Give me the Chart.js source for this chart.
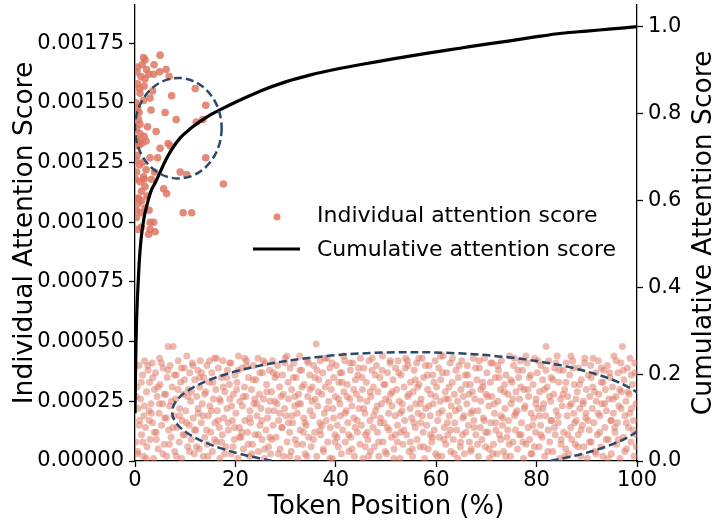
<!DOCTYPE html>
<html>
<head>
<meta charset="utf-8">
<script src="https://cdn.jsdelivr.net/npm/chart.js@4.4.1/dist/chart.umd.min.js"></script>
<style>
  html, body { margin: 0; padding: 0; background: #fff; }
  #chart { display: block; }
</style>
</head>
<body>
<canvas id="chart" width="721" height="520"></canvas>
<script>
// Scores are written in units of 1e-5
const SCORE_UNIT = 1e-5;

// High-attention tokens near the start of the context
const topPoints = [
    [1.7,169],[2.0,168],[5.0,170],[0.5,165],[3.8,166],[2.3,164],[2.7,162],[3.7,162],[4.9,163],[6.2,164],
    [6.8,161],[2.0,160],[0.9,156],[1.8,157],[1.0,154],[3.0,152],[7.3,153],[12.0,156],[14.1,149],[0.5,148],
    [6.0,146],[8.2,143],[0.7,143],[0.3,139],[12.2,142],[13.5,143],[1.0,137],[0.9,134],[1.8,136],[2.2,134],
    [1.3,133],[0.7,132],[6.6,133],[7.0,132],[5.0,131],[3.0,127],[4.5,127],[14.1,127],[0.3,121],[1.7,119],
    [1.0,117],[2.0,115],[1.3,113],[9.0,121],[10.3,120],[5.7,114],[6.3,112],[17.6,116],[0.7,108],[0.3,105],
    [1.3,104],[9.6,104],[11.3,104],[3.7,100],[3.0,97],[4.0,96],[1.3,98],[2.7,95],[1.0,141],[0.7,133],
    [1.8,118],[3.3,118],[1.3,109],[2.0,106],[3.0,100],[0.2,150],[0.4,128],[0.5,110],[0.3,102],[0.8,146],
    [1.5,125],[0.6,97],[2.5,140],[3.5,155],[1.2,161],[0.2,135],[0.5,158],[2.2,122],[4.2,138],[2.8,105],
    [0.9,124],[1.7,151],[3.2,147],[0.1,118],[0.7,110],[0.4,163],[1.4,166],[2.4,111],[0.2,126],[3.9,121]
];

// Low-attention tokens across the whole context
const bgPoints = [
    [0.2,8],[0.4,31],[0.6,22],[0.8,40],[0.5,3],[0.9,17],[1.1,26],[1.3,11],[1.5,36],[1.7,2],[1.8,19],[1.9,42],
    [2.1,14],[2.3,29],[2.4,6],[2.6,38],[2.8,21],[2.9,33],[3.0,9],[3.2,24],[3.4,41],[3.5,16],[3.7,1],[3.9,30],
    [4.1,37],[4.2,12],[4.4,27],[4.6,5],[4.8,20],[4.9,43],[5.0,32],[5.3,15],[5.5,24],[5.6,39],[5.8,7],[5.9,18],
    [6.1,28],[6.3,2],[6.4,35],[6.6,48],[6.7,13],[6.9,23],[7.0,40],[7.2,10],[7.4,31],[7.6,48],[7.7,19],[7.9,4],
    [8.1,26],[8.2,36],[8.4,14],[8.6,42],[8.8,8],[8.9,22],[9.1,33],[9.3,1],[9.4,17],[9.6,28],[9.8,39],[9.9,11],
    [10.1,21],[10.3,44],[10.5,6],[10.6,30],[10.8,15],[10.9,37],[11.1,25],[11.2,9],[11.4,41],[11.6,18],[11.8,3],[11.9,34],
    [12.1,13],[12.3,27],[12.5,38],[12.6,20],[12.8,5],[12.9,31],[13.0,42],[13.2,16],[13.4,24],[13.6,2],[13.7,35],[13.9,10],
    [14.1,29],[14.3,40],[14.4,7],[14.6,19],[14.8,33],[14.9,23],[15.1,12],[15.3,37],[15.4,4],[15.6,26],[15.8,43],[15.9,16],
    [16.1,30],[16.2,8],[16.4,21],[16.6,39],[16.8,14],[16.9,1],[17.0,25],[17.2,35],[17.4,11],[17.5,42],[17.7,18],[17.9,29],
    [18.1,6],[18.3,22],[18.4,38],[18.6,13],[18.8,32],[18.9,26],[19.1,41],[19.2,3],[19.4,17],[19.6,28],[19.8,9],[19.9,36],
    [20.1,20],[20.3,33],[20.5,1],[20.6,44],[20.8,14],[20.9,25],[21.1,10],[21.3,39],[21.4,23],[21.6,5],[21.8,31],[21.9,17],
    [22.1,27],[22.2,42],[22.4,12],[22.6,35],[22.8,2],[22.9,21],[23.0,16],[23.2,30],[23.4,7],[23.6,40],[23.7,24],[23.9,11],
    [24.1,34],[24.3,19],[24.5,43],[24.6,4],[24.8,28],[24.9,15],[25.1,22],[25.3,9],[25.4,37],[25.6,26],[25.8,1],[25.9,41],
    [26.1,13],[26.2,32],[26.4,18],[26.6,6],[26.8,38],[26.9,25],[27.0,3],[27.2,29],[27.4,42],[27.5,15],[27.7,21],[27.9,35],
    [28.1,10],[28.3,24],[28.4,40],[28.6,17],[28.8,31],[28.9,5],[29.1,27],[29.3,14],[29.4,36],[29.6,2],[29.8,22],[29.9,43],
    [30.1,19],[30.3,8],[30.5,33],[30.6,26],[30.8,12],[30.9,39],[31.1,4],[31.2,30],[31.4,16],[31.6,41],[31.8,23],[31.9,9],
    [32.1,35],[32.3,20],[32.4,1],[32.6,28],[32.8,44],[32.9,13],[33.0,24],[33.2,38],[33.4,7],[33.6,18],[33.7,32],[33.9,3],
    [34.1,15],[34.3,42],[34.4,27],[34.6,10],[34.8,36],[34.9,21],[35.1,6],[35.3,31],[35.4,19],[35.6,40],[35.8,12],[35.9,26],
    [36.1,49],[36.2,2],[36.4,23],[36.6,34],[36.8,16],[36.9,42],[37.0,11],[37.2,28],[37.4,37],[37.5,5],[37.7,20],[37.9,31],
    [38.1,17],[38.3,43],[38.4,8],[38.6,25],[38.8,39],[38.9,14],[39.1,30],[39.3,1],[39.4,22],[39.6,35],[39.8,11],[39.9,27],
    [40.1,40],[40.3,15],[40.5,6],[40.6,33],[40.8,24],[40.9,19],[41.1,3],[41.2,37],[41.4,13],[41.6,29],[41.8,42],[41.9,8],
    [42.1,21],[42.3,32],[42.4,16],[42.6,4],[42.8,26],[42.9,38],[43.0,10],[43.2,23],[43.4,41],[43.6,18],[43.7,2],[43.9,34],
    [44.1,28],[44.3,12],[44.4,36],[44.6,22],[44.8,7],[44.9,43],[45.1,15],[45.3,30],[45.4,1],[45.6,39],[45.8,20],[45.9,11],
    [46.1,33],[46.2,25],[46.4,9],[46.6,42],[46.8,17],[46.9,4],[47.0,27],[47.2,38],[47.4,14],[47.5,31],[47.7,6],[47.9,21],
    [48.1,40],[48.3,12],[48.4,29],[48.6,2],[48.8,35],[48.9,18],[49.1,24],[49.3,44],[49.4,8],[49.6,16],[49.8,32],[49.9,26],
    [50.1,3],[50.3,37],[50.5,20],[50.6,13],[50.8,41],[50.9,28],[51.1,10],[51.2,23],[51.4,34],[51.6,5],[51.8,19],[51.9,39],
    [52.1,30],[52.3,15],[52.4,42],[52.6,25],[52.8,1],[52.9,12],[53.0,36],[53.2,21],[53.4,7],[53.6,31],[53.7,17],[53.9,43],
    [54.1,11],[54.3,27],[54.4,40],[54.6,4],[54.8,22],[54.9,33],[55.1,18],[55.3,2],[55.4,29],[55.6,38],[55.8,14],[55.9,24],
    [56.1,41],[56.2,9],[56.4,20],[56.6,32],[56.8,6],[56.9,16],[57.0,26],[57.2,43],[57.4,12],[57.5,35],[57.7,1],[57.9,22],
    [58.1,15],[58.3,30],[58.4,5],[58.6,40],[58.8,19],[58.9,28],[59.1,8],[59.3,36],[59.4,24],[59.6,13],[59.8,42],[59.9,3],
    [60.1,31],[60.3,17],[60.5,39],[60.6,10],[60.8,25],[60.9,34],[61.1,2],[61.2,21],[61.4,44],[61.6,14],[61.8,29],[61.9,7],
    [62.1,37],[62.3,11],[62.4,26],[62.6,19],[62.8,41],[62.9,4],[63.0,23],[63.2,33],[63.4,9],[63.6,28],[63.7,16],[63.9,38],
    [64.1,13],[64.3,1],[64.4,35],[64.6,22],[64.8,6],[64.9,30],[65.1,42],[65.3,18],[65.4,27],[65.6,3],[65.8,36],[65.9,12],
    [66.1,24],[66.2,40],[66.4,15],[66.6,8],[66.8,32],[66.9,20],[67.0,5],[67.2,29],[67.4,43],[67.5,17],[67.7,26],[67.9,11],
    [68.1,34],[68.3,21],[68.4,2],[68.6,39],[68.8,14],[68.9,25],[69.1,9],[69.3,31],[69.4,18],[69.6,43],[69.8,6],[69.9,28],
    [70.1,37],[70.3,12],[70.5,23],[70.6,1],[70.8,33],[70.9,16],[71.1,27],[71.2,41],[71.4,7],[71.6,20],[71.8,35],[71.9,13],
    [72.1,3],[72.3,25],[72.4,38],[72.6,11],[72.8,30],[72.9,19],[73.0,42],[73.2,15],[73.4,4],[73.6,32],[73.7,22],[73.9,36],
    [74.1,10],[74.3,28],[74.4,17],[74.6,44],[74.8,2],[74.9,24],[75.1,33],[75.3,8],[75.4,40],[75.6,19],[75.8,13],[75.9,29],
    [76.1,21],[76.2,5],[76.4,35],[76.6,26],[76.8,42],[76.9,11],[77.0,16],[77.2,38],[77.4,1],[77.5,30],[77.7,23],[77.9,7],
    [78.1,41],[78.3,14],[78.4,27],[78.6,9],[78.8,36],[78.9,20],[79.1,3],[79.3,32],[79.4,18],[79.6,43],[79.8,12],[79.9,26],
    [80.1,37],[80.3,22],[80.5,6],[80.6,29],[80.8,15],[80.9,40],[81.1,10],[81.2,34],[81.4,24],[81.6,2],[81.9,48],[81.8,19],
    [82.1,31],[82.3,13],[82.4,42],[82.6,8],[82.8,25],[82.9,35],[83.0,17],[83.2,4],[83.4,28],[83.6,39],[83.7,11],[83.9,21],
    [84.1,44],[84.3,16],[84.4,33],[84.6,1],[84.8,26],[84.9,9],[85.1,23],[85.3,38],[85.4,12],[85.6,30],[85.8,5],[85.9,41],
    [86.1,19],[86.2,27],[86.4,3],[86.6,36],[86.8,14],[86.9,24],[87.0,9],[87.2,42],[87.4,20],[87.5,32],[87.7,7],[87.9,17],
    [88.1,29],[88.3,11],[88.4,39],[88.6,22],[88.8,2],[88.9,34],[89.1,15],[89.3,25],[89.4,6],[89.6,43],[89.8,18],[89.9,30],
    [90.1,1],[90.3,36],[90.5,13],[90.6,27],[90.8,40],[90.9,8],[91.1,22],[91.2,31],[91.4,16],[91.6,4],[91.8,37],[91.9,25],
    [92.1,11],[92.3,42],[92.4,28],[92.6,19],[92.8,6],[92.9,33],[93.0,24],[93.2,2],[93.4,38],[93.6,14],[93.7,30],[93.9,21],
    [94.1,40],[94.3,9],[94.4,26],[94.6,35],[94.8,17],[94.9,3],[95.1,31],[95.3,20],[95.4,44],[95.6,12],[95.8,27],[95.9,7],
    [96.1,16],[96.2,37],[96.4,23],[96.6,1],[96.8,41],[96.9,29],[97.1,48],[97.3,10],[97.4,34],[97.6,19],[97.8,25],[97.9,5],
    [98.1,39],[98.3,14],[98.4,28],[98.6,43],[98.8,8],[98.9,22],[99.1,32],[99.3,17],[99.4,2],[99.6,37],[99.8,24],[99.9,11]
];

// More low-attention tokens (second pass over the band)
const bgPoints2 = [
    [0.25,27],[0.55,4],[0.85,15],[1.25,33],[1.55,8],[1.85,23],[2.25,1],[2.55,40],[2.85,17],[3.25,20],[3.55,35],[3.85,12],
    [4.25,9],[4.55,31],[4.85,24],[5.25,41],[5.55,3],[5.85,28],[6.25,18],[6.55,38],[6.85,7],[7.25,25],[7.55,14],[7.85,36],
    [8.25,2],[8.55,30],[8.85,19],[9.25,39],[9.55,11],[9.85,34],[10.25,16],[10.55,27],[10.85,4],[11.25,29],[11.55,40],[11.85,13],
    [12.25,6],[12.55,22],[12.85,35],[13.25,37],[13.55,19],[13.85,28],[14.25,13],[14.55,2],[14.85,42],[15.25,21],[15.55,33],[15.85,9],
    [16.25,43],[16.55,17],[16.85,26],[17.25,8],[17.55,31],[17.85,3],[18.25,35],[18.55,16],[18.85,41],[19.25,23],[19.55,6],[19.85,14],
    [20.25,30],[20.55,38],[20.85,10],[21.25,12],[21.55,27],[21.85,43],[22.25,40],[22.55,7],[22.85,18],[23.25,3],[23.55,34],[23.85,26],
    [24.25,24],[24.55,11],[24.85,37],[25.25,17],[25.55,42],[25.85,5],[26.25,29],[26.55,21],[26.85,10],[27.25,9],[27.55,37],[27.85,25],
    [28.25,36],[28.55,3],[28.85,20],[29.25,14],[29.55,28],[29.85,41],[30.25,44],[30.55,16],[30.85,2],[31.25,19],[31.55,35],[31.85,27],
    [32.25,7],[32.55,24],[32.85,38],[33.25,31],[33.55,12],[33.85,16],[34.25,2],[34.55,41],[34.85,30],[35.25,25],[35.55,9],[35.85,35],
    [36.25,38],[36.55,29],[36.85,13],[37.25,15],[37.55,4],[37.85,43],[38.25,22],[38.55,33],[38.85,1],[39.25,41],[39.55,18],[39.85,8],
    [40.25,10],[40.55,26],[40.85,37],[41.25,33],[41.55,44],[41.85,20],[42.25,27],[42.55,11],[42.85,41],[43.25,5],[43.55,30],[43.85,14],
    [44.25,17],[44.55,39],[44.85,26],[45.25,35],[45.55,22],[45.85,6],[46.25,12],[46.55,2],[46.85,29],[47.25,43],[47.55,19],[47.85,36],
    [48.25,23],[48.55,8],[48.85,16],[49.25,38],[49.55,32],[49.85,4],[50.25,14],[50.55,25],[50.85,42],[51.25,29],[51.55,1],[51.85,11],
    [52.25,8],[52.55,37],[52.85,20],[53.25,24],[53.55,13],[53.85,39],[54.25,42],[54.55,28],[54.85,8],[55.25,5],[55.55,16],[55.85,34],
    [56.25,31],[56.55,43],[56.85,24],[57.25,19],[57.55,6],[57.85,40],[58.25,36],[58.55,23],[58.85,11],[59.25,10],[59.55,33],[59.85,27],
    [60.25,2],[60.55,20],[60.85,44],[61.25,37],[61.55,9],[61.85,26],[62.25,16],[62.55,31],[62.85,13],[63.25,43],[63.55,3],[63.85,21],
    [64.25,25],[64.55,40],[64.85,8],[65.25,11],[65.55,19],[65.85,32],[66.25,36],[66.55,28],[66.85,4],[67.25,21],[67.55,14],[67.85,39],
    [68.25,7],[68.55,42],[68.85,30],[69.25,33],[69.55,17],[69.85,12],[70.25,27],[70.55,5],[70.85,41],[71.25,3],[71.55,24],[71.85,16],
    [72.25,40],[72.55,35],[72.85,9],[73.25,18],[73.55,29],[73.85,2],[74.25,13],[74.55,7],[74.85,34],[75.25,26],[75.55,43],[75.85,20],
    [76.25,38],[76.55,11],[76.85,31],[77.25,8],[77.55,22],[77.85,44],[78.25,30],[78.55,35],[78.85,3],[79.25,15],[79.55,6],[79.85,24],
    [80.25,42],[80.55,19],[80.85,11],[81.25,22],[81.55,30],[81.85,38],[82.25,4],[82.55,27],[82.85,17],[83.25,34],[83.55,14],[83.85,41],
    [84.25,19],[84.55,38],[84.85,7],[85.25,28],[85.55,2],[85.85,33],[86.25,11],[86.55,23],[86.85,44],[87.25,39],[87.55,16],[87.85,26],
    [88.25,6],[88.55,32],[88.85,13],[89.25,24],[89.55,41],[89.85,20],[90.25,17],[90.55,8],[90.85,35],[91.25,43],[91.55,29],[91.85,3],
    [92.25,20],[92.55,12],[92.85,39],[93.25,33],[93.55,24],[93.85,9],[94.25,1],[94.55,37],[94.85,17],[95.25,26],[95.55,14],[95.85,42],
    [96.25,9],[96.55,30],[96.85,22],[97.25,38],[97.55,4],[97.85,16],[98.25,29],[98.55,20],[98.85,36],[99.25,13],[99.55,41],[99.85,6]
];

// Cumulative attention curve
const cumX = [0, 0.1, 0.2, 0.3, 0.5, 0.8, 1.2, 1.8, 2.5, 3.3, 4, 5, 6, 7.3, 9, 11, 13, 15, 17, 20,
              25, 30, 35, 40, 45, 50, 55, 60, 65, 70, 75, 80, 85, 90, 95, 100];
const cumY = [0.11, 0.2, 0.27, 0.32, 0.38, 0.45, 0.51, 0.56, 0.595, 0.625, 0.64, 0.665, 0.69, 0.717, 0.744, 0.765, 0.782, 0.797, 0.809, 0.826,
              0.852, 0.873, 0.889, 0.902, 0.913, 0.923, 0.933, 0.942, 0.951, 0.96, 0.968, 0.977, 0.985, 0.99, 0.995, 1.0];

// Tick labels
const xTicks = [0, 20, 40, 60, 80, 100];
const yTicks = [0, 0.00025, 0.0005, 0.00075, 0.001, 0.00125, 0.0015, 0.00175];
const y2Ticks = [0, 0.2, 0.4, 0.6, 0.8, 1.0];

const FONT = "'DejaVu Sans', sans-serif";
const DOT = 'rgba(222, 118, 98, 0.85)';
const DOT_LIGHT = 'rgba(222, 118, 98, 0.5)';

// Dashed ellipses marking the two groups (drawn in data coordinates)
const ellipsePlugin = {
    id: 'ellipses',
    afterDatasetsDraw(chart, args, opts) {
        const { ctx, chartArea: a, scales: { x, y } } = chart;
        ctx.save();
        ctx.beginPath();
        ctx.rect(a.left, a.top, a.right - a.left, a.bottom - a.top);
        ctx.clip();
        ctx.strokeStyle = opts.color;
        ctx.lineWidth = opts.width;
        ctx.setLineDash(opts.dash);
        opts.items.forEach(e => {
            const cx = x.getPixelForValue(e.cx);
            const cy = y.getPixelForValue(e.cy);
            const rx = Math.abs(x.getPixelForValue(e.cx + e.rx) - cx);
            const ry = Math.abs(y.getPixelForValue(e.cy + e.ry) - cy);
            ctx.beginPath();
            ctx.ellipse(cx, cy, rx, ry, 0, 0, Math.PI * 2);
            ctx.stroke();
        });
        ctx.restore();
    }
};

// Axis titles and the in-plot legend
const overlayPlugin = {
    id: 'overlay',
    afterDraw(chart) {
        const { ctx, chartArea: a } = chart;
        const midY = (a.top + a.bottom) / 2;
        ctx.save();
        ctx.fillStyle = '#000';
        ctx.textAlign = 'center';
        ctx.textBaseline = 'alphabetic';

        ctx.font = `26px ${FONT}`;
        ctx.fillText('Token Position (%)', (a.left + a.right) / 2, 514);

        ctx.font = `26.5px ${FONT}`;
        ctx.save();
        ctx.translate(32, midY);
        ctx.rotate(-Math.PI / 2);
        ctx.fillText('Individual Attention Score', 0, 0);
        ctx.restore();

        ctx.save();
        ctx.translate(711, midY);
        ctx.rotate(-Math.PI / 2);
        ctx.fillText('Cumulative Attention Score', 0, 0);
        ctx.restore();

        // legend
        const ds = chart.data.datasets;
        ctx.font = `22px ${FONT}`;
        ctx.textAlign = 'left';
        ctx.textBaseline = 'middle';
        ctx.fillStyle = DOT;
        ctx.beginPath();
        ctx.arc(277, 217, 3.5, 0, Math.PI * 2);
        ctx.fill();
        ctx.fillStyle = '#000';
        ctx.fillText(ds[0].label, 317, 216);

        ctx.strokeStyle = '#000';
        ctx.lineWidth = 3.2;
        ctx.beginPath();
        ctx.moveTo(253, 249);
        ctx.lineTo(300, 249);
        ctx.stroke();
        ctx.fillText(ds[2].label, 317, 250);
        ctx.restore();
    }
};

const axisLine = { color: '#000', width: 1.3 };
const tickGrid = { drawOnChartArea: false, drawTicks: true, tickLength: 6, tickColor: '#000', tickWidth: 1.3 };
const tickFont = { family: FONT, size: 21 };

// fixed box sizes so the plot area lands where the reference has it
const fixVertical = w => s => { s.width = w; s.paddingTop = 0; s.paddingBottom = 0; };

new Chart(document.getElementById('chart'), {
    type: 'scatter',
    data: {
        datasets: [
            {
                label: 'Individual attention score',
                data: topPoints.map(p => ({ x: p[0], y: p[1] * SCORE_UNIT })),
                backgroundColor: DOT,
                borderWidth: 0,
                pointRadius: 3.8,
                yAxisID: 'y',
                order: 1,
            },
            {
                label: 'Individual attention score (low)',
                data: bgPoints.concat(bgPoints2).map(p => ({ x: p[0], y: p[1] * SCORE_UNIT })),
                backgroundColor: DOT_LIGHT,
                borderWidth: 0,
                pointRadius: 3.5,
                yAxisID: 'y',
                order: 2,
            },
            {
                label: 'Cumulative attention score',
                data: cumX.map((v, i) => ({ x: v, y: cumY[i] })),
                showLine: true,
                borderColor: '#000',
                borderWidth: 3.2,
                pointRadius: 0,
                cubicInterpolationMode: 'monotone',
                yAxisID: 'y2',
                order: 0,
            },
        ],
    },
    options: {
        responsive: false,
        animation: false,
        devicePixelRatio: 1,
        layout: { padding: { top: 5, left: 0, right: 0, bottom: 0 } },
        plugins: {
            legend: { display: false },
            tooltip: { enabled: false },
            ellipses: {
                color: '#2d4869',
                width: 2.5,
                dash: [8, 4],
                items: [
                    { cx: 8.63, cy: 0.001394, rx: 8.63, ry: 0.0002105 },
                    { cx: 55.0, cy: 0.000205, rx: 47.6, ry: 0.000251 },
                ],
            },
        },
        scales: {
            x: {
                type: 'linear',
                position: 'bottom',
                min: 0,
                max: 100,
                afterBuildTicks: s => { s.ticks = xTicks.map(v => ({ value: v })); },
                afterFit: s => { s.height = 59; s.paddingLeft = 0; s.paddingRight = 0; },
                ticks: { font: tickFont, color: '#000', padding: 1, autoSkip: false, maxRotation: 0 },
                grid: tickGrid,
                border: axisLine,
            },
            y: {
                position: 'left',
                min: 0,
                max: 0.00191,
                afterBuildTicks: s => { s.ticks = yTicks.map(v => ({ value: v })); },
                afterFit: fixVertical(135),
                ticks: { font: tickFont, color: '#000', padding: 5, autoSkip: false, callback: v => v.toFixed(5) },
                grid: tickGrid,
                border: axisLine,
            },
            y2: {
                position: 'right',
                min: 0,
                max: 1.05,
                afterBuildTicks: s => { s.ticks = y2Ticks.map(v => ({ value: v })); },
                afterFit: fixVertical(84),
                ticks: { font: tickFont, color: '#000', padding: 5, autoSkip: false, callback: v => v.toFixed(1) },
                grid: tickGrid,
                border: axisLine,
            },
        },
    },
    plugins: [ellipsePlugin, overlayPlugin],
});
</script>
</body>
</html>
